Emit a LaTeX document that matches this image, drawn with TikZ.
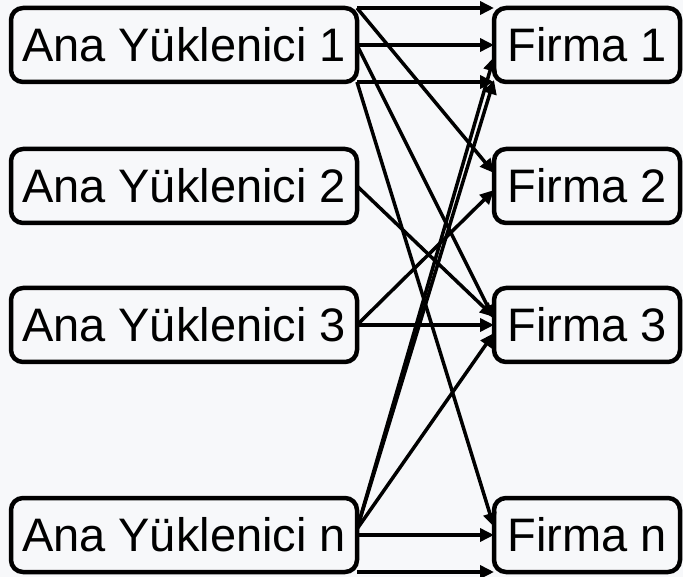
\documentclass[tikz,border=0pt]{standalone}
\usepackage{fontspec}
\setmainfont{Liberation Sans}
\usetikzlibrary{arrows.meta}
\definecolor{bgcol}{RGB}{247,248,250}
\begin{document}
\begin{tikzpicture}[x=1pt,y=1pt,
  box/.style={draw=black, line width=4.5pt, rounded corners=12pt, minimum height=74pt, inner sep=0pt, outer sep=0pt, font=\fontsize{47}{50}\selectfont, text=black},
  abox/.style={box, minimum width=346pt},
  fbox/.style={box, minimum width=186pt},
  conn/.style={line width=3.5pt, -{Triangle[length=14pt,width=13pt]}}
]
\fill[bgcol] (0,0) rectangle (683,-577);
\useasboundingbox (0,0) rectangle (683,-577);
\node[abox] (a1) at (184,-45) {Ana Yüklenici 1};
\node[abox] (a2) at (184,-186) {Ana Yüklenici 2};
\node[abox] (a3) at (184,-325) {Ana Yüklenici 3};
\node[abox] (an) at (184,-535) {Ana Yüklenici n};
\node[fbox] (f1) at (587,-45) {Firma 1};
\node[fbox] (f2) at (587,-186) {Firma 2};
\node[fbox] (f3) at (587,-325) {Firma 3};
\node[fbox] (fn) at (587,-535) {Firma n};
% Ana Yuklenici 1
\draw[conn] (a1.north east) -- (f1.north west);
\draw[conn] (a1.east) -- (f1.west);
\draw[conn] (a1.south east) -- (f1.south west);
\draw[conn] (a1.north east) -- ([yshift=13pt]f2.west);
\draw[conn] (a1.east) -- ([yshift=6pt]f3.west);
\draw[conn] (a1.south east) -- ([yshift=8pt]fn.west);
% Ana Yuklenici 2
\draw[conn] (a2.east) -- ([yshift=8pt]f3.west);
% Ana Yuklenici 3
\draw[conn] (a3.east) -- ([yshift=-4pt]f2.west);
\draw[conn] (a3.east) -- (f3.west);
% Ana Yuklenici n
\draw[conn] ([yshift=6pt]an.east) -- ([yshift=-12pt]f1.west);
\draw[conn] ([yshift=6pt]an.east) -- ([yshift=-35pt]f1.west);
\draw[conn] ([yshift=6pt]an.east) -- ([yshift=-8pt]f3.west);
\draw[conn] (an.east) -- (fn.west);
\draw[conn] (an.south east) -- (fn.south west);
\end{tikzpicture}
\end{document}
